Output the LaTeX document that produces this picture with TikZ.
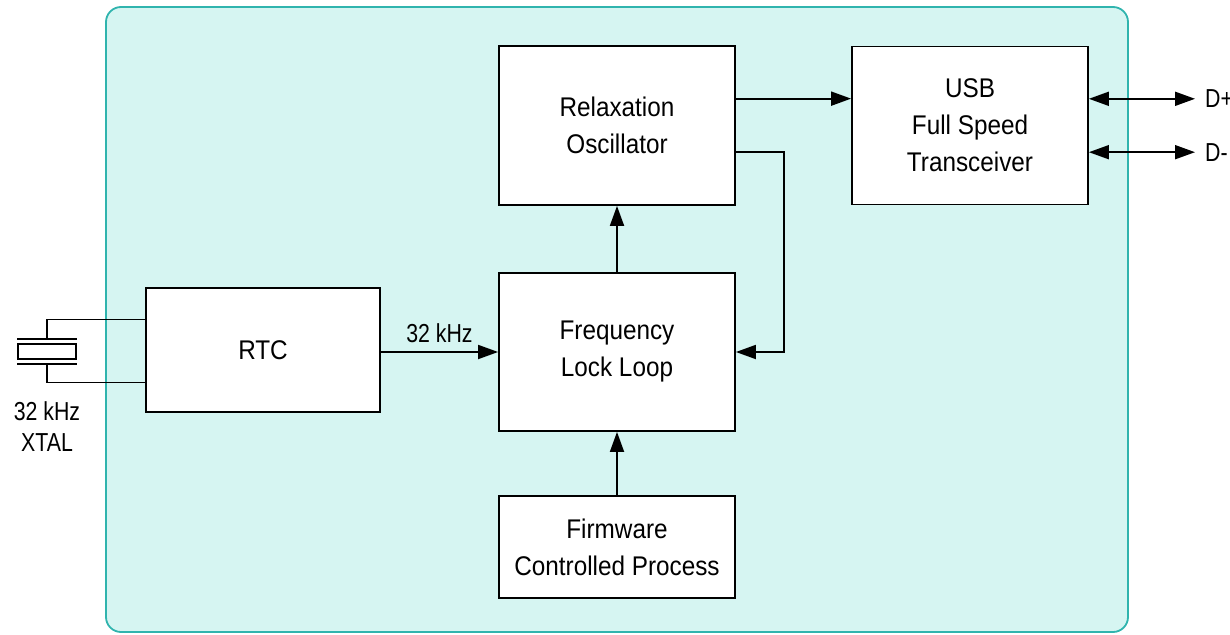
\documentclass[tikz,border=0pt]{standalone}
\usepackage{fontspec}
\setmainfont{Liberation Sans}[FakeStretch=0.9]
\newfontfamily\lblfont{Liberation Sans}[FakeStretch=0.82]
\usetikzlibrary{arrows.meta,calc}
\definecolor{bgfill}{RGB}{214,245,242}
\definecolor{bgedge}{RGB}{48,180,174}
\tikzset{
  blk/.style={draw=black, line width=1.8pt, fill=white, align=center, inner sep=0pt,
    font=\fontsize{27}{37}\selectfont},
  conn/.style={draw=black, line width=1.8pt},
  arr/.style={conn, -{Triangle[length=20pt,width=14pt]}},
  darr/.style={conn, {Triangle[length=20pt,width=14pt]}-{Triangle[length=20pt,width=14pt]}},
  lbl/.style={inner sep=0pt, align=center, font=\lblfont\fontsize{26}{31}\selectfont},
}
\begin{document}
\begin{tikzpicture}[x=1pt,y=-1pt]
\useasboundingbox (0,0) rectangle (1230,634);
% background panel
\draw[draw=bgedge, fill=bgfill, line width=1.8pt, rounded corners=15pt] (106,7) rectangle (1128,632);
% blocks
\node[blk, minimum width=236pt, minimum height=159pt] (ro) at (617,125.5) {Relaxation\\Oscillator};
\node[blk, minimum width=236pt, minimum height=158pt] (usb) at (970,125.5) {USB\\Full Speed\\Transceiver};
\node[blk, minimum width=234pt, minimum height=124pt] (rtc) at (263,350) {RTC};
\node[blk, minimum width=236pt, minimum height=158pt] (fll) at (617,352) {Frequency\\Lock Loop};
\node[blk, minimum width=236pt, minimum height=102pt] (fw) at (617,547) {Firmware\\Controlled Process};
% connectors
\coordinate (roA) at ($(ro.north east)!0.333!(ro.south east)$);
\coordinate (roB) at ($(ro.north east)!0.667!(ro.south east)$);
\draw[arr] (roA) -- (roA -| usb.west);
\draw[arr] (roB) -- ++(48,0) |- (fll.east);
\draw[arr] (fll.north) -- (ro.south);
\draw[arr] (fw.north) -- (fll.south);
\draw[arr] (rtc.east |- fll.west) -- node[lbl, above=8pt] (f32) {32 kHz} (fll.west);
% USB data lines
\coordinate (usbA) at ($(usb.north east)!0.333!(usb.south east)$);
\coordinate (usbB) at ($(usb.north east)!0.667!(usb.south east)$);
\coordinate (dp) at (1195,0 |- usbA);
\coordinate (dm) at (1195,0 |- usbB);
\draw[darr] (usbA) -- (dp);
\draw[darr] (usbB) -- (dm);
\node[lbl, anchor=west] (dpl) at ([xshift=10pt]dp) {D+};
\node[lbl, anchor=west] (dml) at ([xshift=10pt]dm) {D-};
% crystal
\coordinate (xa) at ($(rtc.north west)!0.258!(rtc.south west)$);
\coordinate (xb) at ($(rtc.north west)!0.758!(rtc.south west)$);
\node[draw=black, line width=1.8pt, minimum width=58pt, minimum height=15pt, inner sep=0pt] (xtal) at (47,351.5) {};
\coordinate (pt) at (47,339);
\coordinate (pb) at (47,364);
\draw[conn] ([xshift=-30pt]pt) -- ([xshift=30pt]pt);
\draw[conn] ([xshift=-30pt]pb) -- ([xshift=30pt]pb);
\draw[conn] (xa) -| (pt);
\draw[conn] (xb) -| (pb);
\node[lbl] (xl) at (47,427) {32 kHz\\XTAL};
\end{tikzpicture}
\end{document}
